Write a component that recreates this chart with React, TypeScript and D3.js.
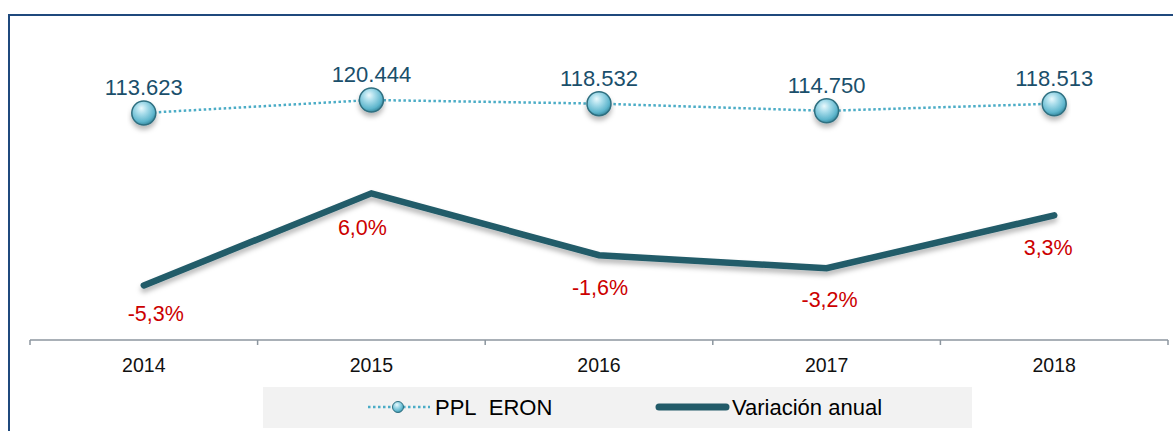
import React from "react";
import * as d3 from "d3";

const years = ["2014", "2015", "2016", "2017", "2018"];
const pplEron = [113623, 120444, 118532, 114750, 118513];
const pplLabels = ["113.623", "120.444", "118.532", "114.750", "118.513"];
const variacion = [-5.3, 6.0, -1.6, -3.2, 3.3];
const varLabels = ["-5,3%", "6,0%", "-1,6%", "-3,2%", "3,3%"];
const varLabelDx = [12, -9, 1, 3, -6];
const varLabelDy = [36, 42, 40, 39, 40];
const legendNames = ["PPL\u00A0 ERON", "Variación anual"];

const W = 1173;
const H = 431;
const FONT = "'Liberation Sans', Arial, sans-serif";

export default function App() {
  const x = d3.scaleBand<string>().domain(years).range([30, 1168]).padding(0);
  const cx = (y: string) => (x(y) ?? 0) + x.bandwidth() / 2;
  const yPpl = d3.scaleLinear().domain([100000, 125000]).range([139, 91.3]);
  const yVar = d3.scaleLinear().domain([-12, 8]).range([340, 177]);

  const pplLine = d3
    .line<number>()
    .x((_, i) => cx(years[i]))
    .y((d) => yPpl(d));
  const varLine = d3
    .line<number>()
    .x((_, i) => cx(years[i]))
    .y((d) => yVar(d));

  const tickXs = [...years.map((y) => x(y) ?? 0), 1168];

  return (
    <div style={{ position: "absolute", left: 0, top: 0 }}>
      <svg width={W} height={H} style={{ display: "block" }}>
        <defs>
          <radialGradient id="ball" cx="42%" cy="35%" r="65%" fx="40%" fy="30%">
            <stop offset="0%" stopColor="#EAF9FD" />
            <stop offset="35%" stopColor="#A9DDEB" />
            <stop offset="80%" stopColor="#5FB6CD" />
            <stop offset="100%" stopColor="#3A8DA3" />
          </radialGradient>
          <filter id="shadow" x="-20%" y="-20%" width="140%" height="160%">
            <feDropShadow dx="0" dy="4" stdDeviation="2.5" floodColor="#000" floodOpacity="0.28" />
          </filter>
        </defs>
        <rect x={0} y={0} width={W} height={H} fill="#fff" />
        <rect x={9} y={15} width={W + 20} height={H + 20} fill="none" stroke="#1F497D" strokeWidth={2} />

        {/* axis */}
        <line x1={30} x2={1168} y1={340} y2={340} stroke="#8C969F" strokeWidth={1.5} />
        {tickXs.map((t, i) => (
          <line key={i} x1={t} x2={t} y1={340} y2={345} stroke="#8C969F" strokeWidth={1.5} />
        ))}
        {years.map((y) => (
          <text key={y} x={cx(y)} y={372} textAnchor="middle" fontFamily={FONT} fontSize={19.5} fill="#111">
            {y}
          </text>
        ))}

        {/* variacion line */}
        <path
          d={varLine(variacion) ?? ""}
          fill="none"
          stroke="#225B69"
          strokeWidth={6.5}
          strokeLinecap="round"
          strokeLinejoin="miter"
          filter="url(#shadow)"
        />
        {variacion.map((v, i) => (
          <text
            key={i}
            x={cx(years[i]) + varLabelDx[i]}
            y={yVar(v) + varLabelDy[i]}
            textAnchor="middle"
            fontFamily={FONT}
            fontSize={21.5}
            fill="#CC0000"
          >
            {varLabels[i]}
          </text>
        ))}

        {/* PPL line */}
        <path
          d={pplLine(pplEron) ?? ""}
          fill="none"
          stroke="#4BACC6"
          strokeWidth={2.5}
          strokeDasharray="2.5 2.5"
        />
        {pplEron.map((v, i) => (
          <g key={i}>
            <circle
              cx={cx(years[i])}
              cy={yPpl(v)}
              r={12}
              fill="url(#ball)"
              stroke="#2F6F80"
              strokeWidth={1.5}
              filter="url(#shadow)"
            />
            <text
              x={cx(years[i])}
              y={yPpl(v) - 18}
              textAnchor="middle"
              fontFamily={FONT}
              fontSize={22}
              fill="#1A4F6B"
            >
              {pplLabels[i]}
            </text>
          </g>
        ))}

        {/* legend */}
        <rect x={263} y={387} width={709} height={41} fill="#F2F2F2" />
        <line x1={368} x2={430} y1={407} y2={407} stroke="#4BACC6" strokeWidth={2.5} strokeDasharray="2.5 2.5" />
        <circle cx={398} cy={407} r={5.5} fill="url(#ball)" stroke="#2F6F80" strokeWidth={1} />
        <text x={435} y={415} fontFamily={FONT} fontSize={22} fill="#000">
          {legendNames[0]}
        </text>
        <line x1={659} x2={726} y1={407} y2={407} stroke="#225B69" strokeWidth={7} strokeLinecap="round" />
        <text x={732} y={415} fontFamily={FONT} fontSize={22} fill="#000">
          {legendNames[1]}
        </text>
      </svg>
    </div>
  );
}
